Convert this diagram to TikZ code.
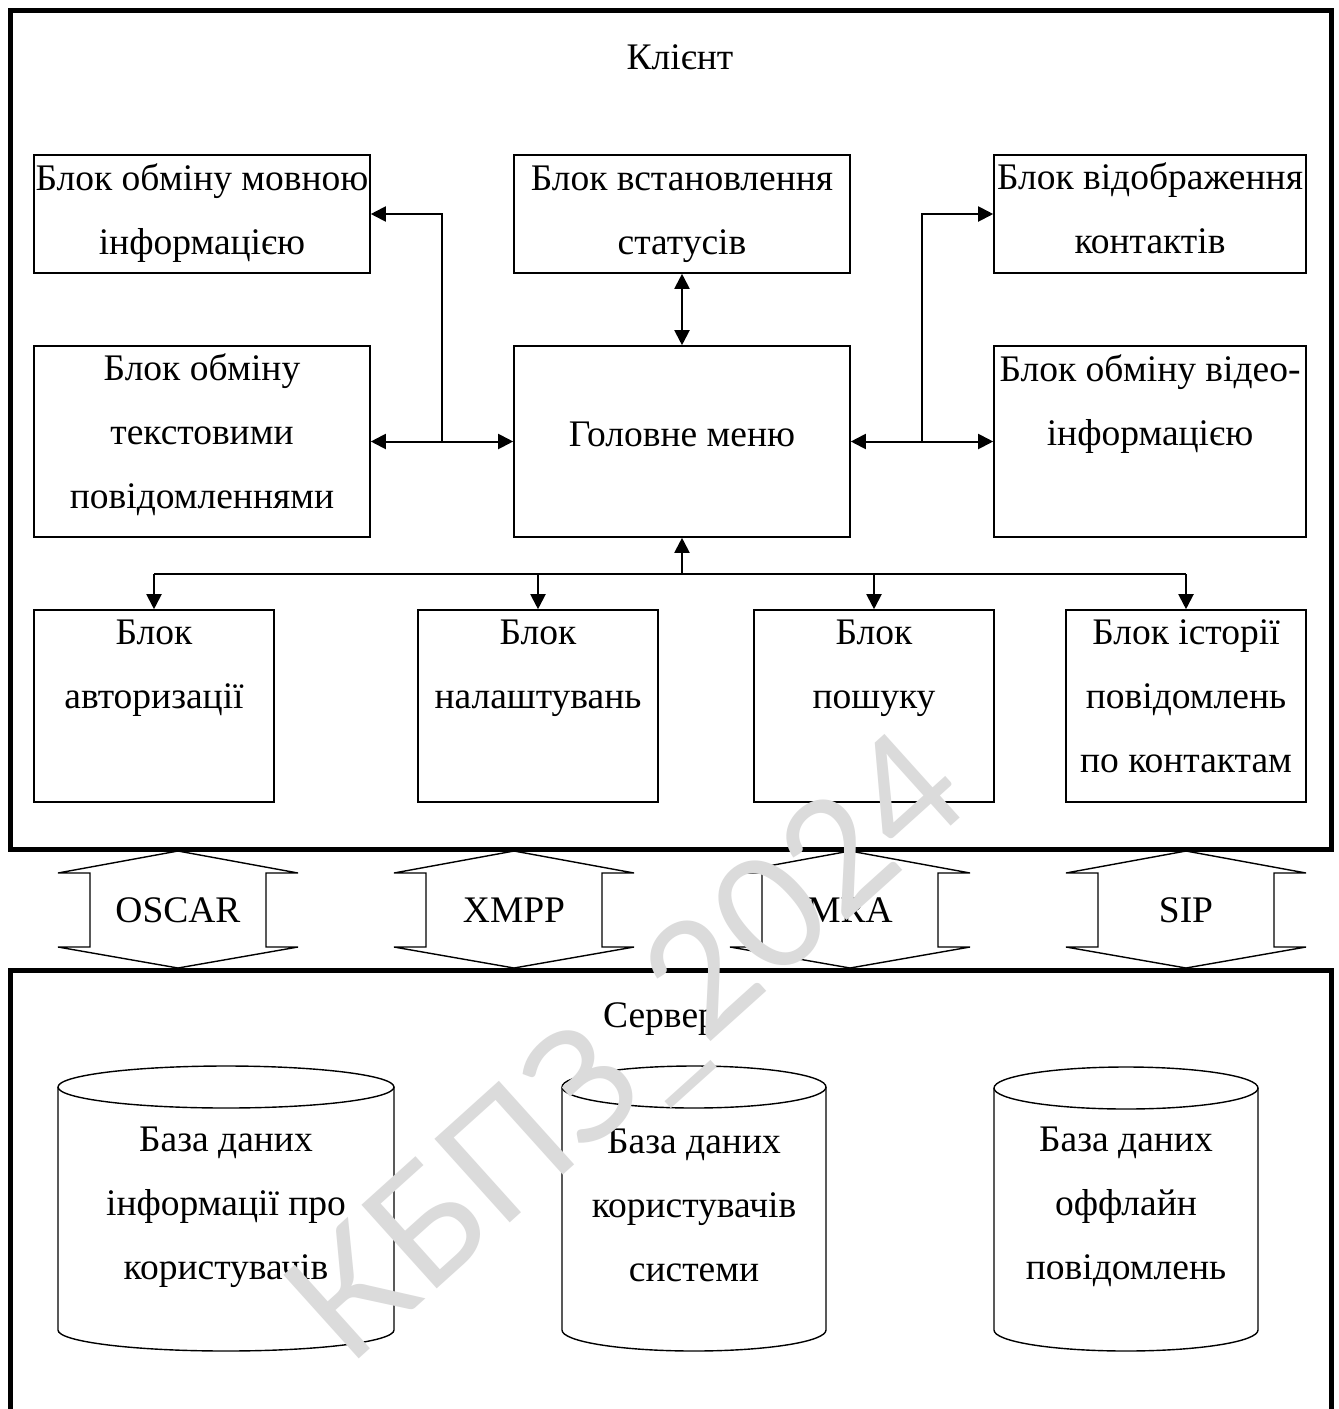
\documentclass[tikz,border=0pt]{standalone}
\usepackage{fontspec}
\setmainfont{Liberation Serif}
\newfontfamily\wmfont{Lato}
\usetikzlibrary{arrows.meta}
\tikzset{
  blk/.style={draw, line width=1.6pt, inner sep=0pt},
  lbl/.style={font=\fontsize{37.5}{64}\selectfont, align=center, inner sep=0pt},
  conn/.style={line width=2pt, arrows={-}},
  tip/.style={-{Triangle[length=15pt,width=15pt]}},
  btip/.style={{Triangle[length=15pt,width=15pt]}-{Triangle[length=15pt,width=15pt]}},
  thick border/.style={line width=5pt},
  hexa/.style={draw, line width=1.4pt, fill=white},
  cyl/.style={draw, line width=1.4pt},
  wm/.style={font=\wmfont\fontsize{157}{157}\selectfont, text=black!14, inner sep=0pt}
}
\newcommand{\dbcyl}[4]{%
  \draw[cyl] (#1,#3) ellipse [x radius=#2 pt, y radius=21pt];
  \draw[cyl] (#1-#2,#3) -- (#1-#2,#4) arc[start angle=180,end angle=360,x radius=#2 pt,y radius=21pt] -- (#1+#2,#3);}
\newcommand{\dblarrow}[1]{%
  \draw[hexa] (#1,851) -- (#1+120,873) -- (#1+88,873) -- (#1+88,947) -- (#1+120,947) -- (#1,968)
     -- (#1-120,947) -- (#1-88,947) -- (#1-88,873) -- (#1-120,873) -- cycle;}
\begin{document}
\begin{tikzpicture}[x=1pt,y=-1pt]
\fill[white] (0,0) rectangle (1339,1409);
\useasboundingbox (0,0) rectangle (1339,1409);
\begin{scope}
\clip (0,0) rectangle (1339,1409);
% outer frames
\draw[thick border] (10,10) rectangle (1331,849);
\draw[thick border] (10,1420) -- (10,970) -- (1331,970) -- (1331,1420);

% titles
\node[lbl] (client) at (680,57) {Клієнт};
\node[lbl] (server) at (660,1019) {Сервер};

% boxes
\node[blk, minimum width=336, minimum height=118] (mova) at (202,214) {};
\node[blk, minimum width=336, minimum height=118] (status) at (682,214) {};
\node[blk, minimum width=312, minimum height=118] (kont) at (1150,214) {};
\node[blk, minimum width=336, minimum height=191] (text) at (202,441.5) {};
\node[blk, minimum width=336, minimum height=191] (menu) at (682,441.5) {};
\node[blk, minimum width=312, minimum height=191] (video) at (1150,441.5) {};
\node[blk, minimum width=240, minimum height=192] (auth) at (154,706) {};
\node[blk, minimum width=240, minimum height=192] (nal) at (538,706) {};
\node[blk, minimum width=240, minimum height=192] (posh) at (874,706) {};
\node[blk, minimum width=240, minimum height=192] (ist) at (1186,706) {};

% box texts
\node[lbl] (tmova) at (202,213) {Блок обміну мовною\\інформацією};
\node[lbl] (tstatus) at (682,214) {Блок встановлення\\статусів};
\node[lbl] (tkont) at (1150,208) {Блок відображення\\контактів};
\node[lbl] (ttext) at (202,435) {Блок обміну\\текстовими\\повідомленнями};
\node[lbl] (tmenu) at (682,434) {Головне меню};
\node[lbl] (tvideo) at (1150,404) {Блок обміну відео-\\інформацією};
\node[lbl] (tauth) at (154,668) {Блок\\авторизації};
\node[lbl] (tnal) at (538,668) {Блок\\налаштувань};
\node[lbl] (tposh) at (874,668) {Блок\\пошуку};
\node[lbl] (tist) at (1186,696) {Блок історії\\повідомлень\\по контактам};

% connectors
\draw[conn, btip] (text.east) -- (menu.west);
\coordinate (jl) at (442,441.5);
\draw[conn, tip] (jl) |- (mova.east);
\draw[conn, btip] (menu.east) -- (video.west);
\coordinate (jr) at (922,441.5);
\draw[conn, tip] (jr) |- (kont.west);
\draw[conn, btip] (status.south) -- (menu.north);
\coordinate (bus) at (682,574);
\draw[conn, tip] (bus) -- (menu.south);
\draw[conn] (auth.north |- bus) -- (ist.north |- bus);
\draw[conn, tip] (auth.north |- bus) -- (auth.north);
\draw[conn, tip] (nal.north |- bus) -- (nal.north);
\draw[conn, tip] (posh.north |- bus) -- (posh.north);
\draw[conn, tip] (ist.north |- bus) -- (ist.north);

% protocols
\dblarrow{178}
\dblarrow{514}
\dblarrow{850}
\dblarrow{1186}
\node[lbl] (oscar) at (178,910) {OSCAR};
\node[lbl] (xmpp) at (514,910) {XMPP};
\node[lbl] (mra) at (850,910) {MRA};
\node[lbl] (sip) at (1186,910) {SIP};

% databases
\dbcyl{226}{168}{1087}{1330}
\dbcyl{694}{132}{1087}{1330}
\dbcyl{1126}{132}{1088}{1330}
\node[lbl] (db1) at (226,1207) {База даних\\інформації про\\користувачів};
\node[lbl] (db2) at (694,1205) {База даних\\користувачів\\системи};
\node[lbl] (db3) at (1126,1207) {База даних\\оффлайн\\повідомлень};

% watermark
\node[wm, rotate=42] (mark) at (632,1052) {КБПЗ\_2024};
\end{scope}
\end{tikzpicture}
\end{document}
